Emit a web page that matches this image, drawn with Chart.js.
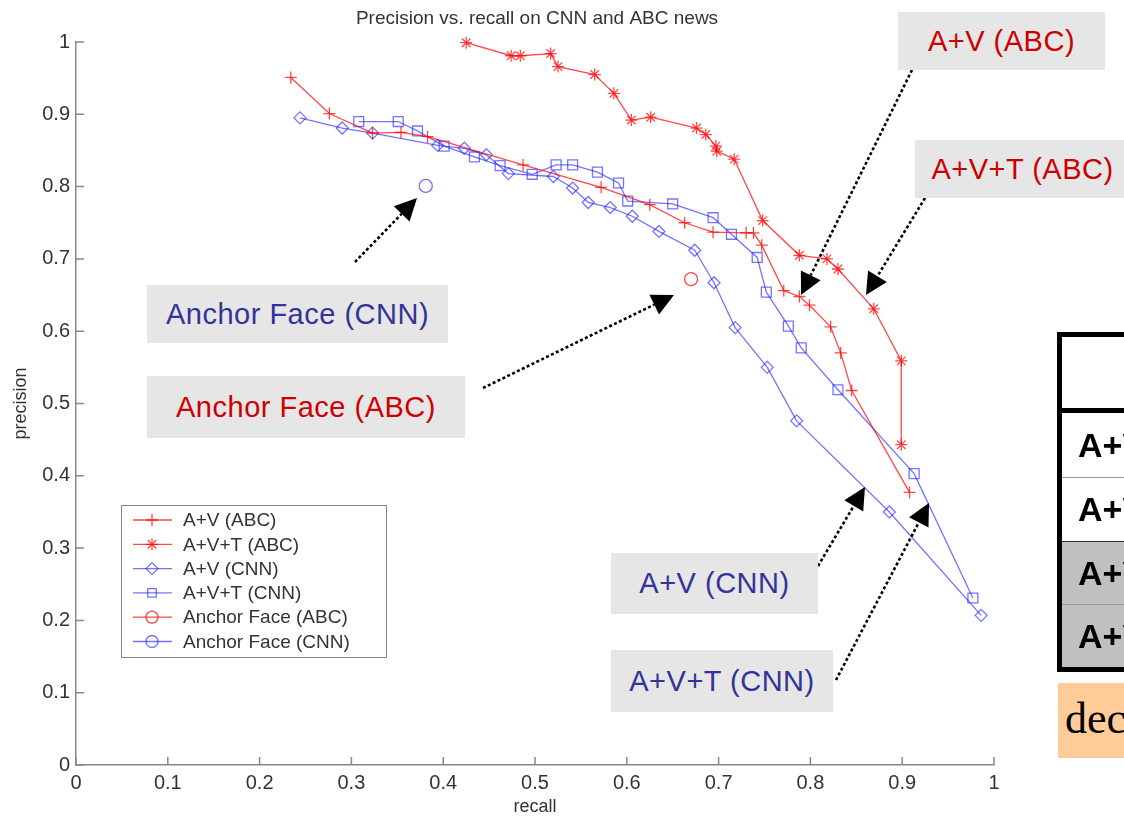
<!DOCTYPE html>
<html>
<head>
<meta charset="utf-8">
<title>Precision vs. recall on CNN and ABC news</title>
<script src="https://cdn.jsdelivr.net/npm/chart.js@4.4.1/dist/chart.umd.min.js"></script>
<style>
    html, body { margin: 0; padding: 0; background: #fff; overflow: hidden; }
    #wrap { position: relative; width: 1124px; height: 818px; overflow: hidden; font-family: "Liberation Sans", Arial, sans-serif; }
    #wrap canvas { position: absolute; left: 0; top: 0; }
    .note { position: absolute; background: #e6e6e6; font-size: 29px; letter-spacing: 0.5px; display: flex; align-items: center; justify-content: center; white-space: nowrap; }
    .red { color: #cc0000; }
    .blue { color: #333399; }
    #tbl { position: absolute; left: 1057px; top: 332px; width: 400px; border: 5px solid #000; border-right: none; }
    #tbl .hdr { height: 71px; border-bottom: 5px solid #000; }
    #tbl .row { font-weight: bold; font-size: 34px; padding-left: 16px; white-space: nowrap; }
    #tbl .gray { background: #c0c0c0; }
    #dec { position: absolute; left: 1058px; top: 683px; width: 200px; height: 75px; line-height: 72px; background: #ffcc99; font-family: "Liberation Serif", "Times New Roman", serif; font-size: 44px; padding-left: 7px; white-space: nowrap; }
</style>
</head>
<body>
<div id="wrap">
    <canvas id="prChart" width="1124" height="818"></canvas>

    <div class="note red" style="left:898px; top:12px; width:207px; height:58px;">A+V (ABC)</div>
    <div class="note red" style="left:915px; top:140px; width:215px; height:58px;">A+V+T (ABC)</div>
    <div class="note blue" style="left:147px; top:285px; width:301px; height:58px;">Anchor Face (CNN)</div>
    <div class="note red" style="left:147px; top:376px; width:318px; height:62px;">Anchor Face (ABC)</div>
    <div class="note blue" style="left:611px; top:553px; width:207px; height:61px;">A+V (CNN)</div>
    <div class="note blue" style="left:611px; top:650px; width:222px; height:62px;">A+V+T (CNN)</div>

    <div id="tbl">
        <div class="hdr"></div>
        <div class="row" style="height:64px; line-height:64px; border-bottom:1px solid #999;">A+V (ABC)</div>
        <div class="row" style="height:63px; line-height:63px; border-bottom:1px solid #333;">A+V+T (ABC)</div>
        <div class="row gray" style="height:62px; line-height:62px; border-bottom:1px solid #999;">A+V (CNN)</div>
        <div class="row gray" style="height:62px; line-height:62px;">A+V+T (CNN)</div>
    </div>
    <div id="dec">decision</div>
</div>

<script>
"use strict";

// Data (recall = x, precision = y)
const seriesNames = [
    "A+V (ABC)",
    "A+V+T (ABC)",
    "A+V (CNN)",
    "A+V+T (CNN)",
    "Anchor Face (ABC)",
    "Anchor Face (CNN)",
];

const avAbcRecall = [0.234, 0.276, 0.323, 0.354, 0.383, 0.487, 0.572, 0.625, 0.663, 0.694, 0.730, 0.738, 0.747, 0.771, 0.788, 0.799, 0.822, 0.833, 0.845, 0.908];
const avAbcPrecision = [0.951, 0.901, 0.874, 0.875, 0.869, 0.830, 0.799, 0.775, 0.750, 0.737, 0.736, 0.736, 0.719, 0.656, 0.648, 0.636, 0.606, 0.570, 0.518, 0.377];

const avtAbcRecall = [0.425, 0.474, 0.484, 0.517, 0.525, 0.565, 0.586, 0.605, 0.626, 0.676, 0.686, 0.697, 0.698, 0.717, 0.748, 0.788, 0.818, 0.830, 0.869, 0.899, 0.899];
const avtAbcPrecision = [0.999, 0.981, 0.981, 0.984, 0.966, 0.955, 0.929, 0.892, 0.896, 0.881, 0.872, 0.856, 0.849, 0.838, 0.753, 0.705, 0.700, 0.686, 0.631, 0.559, 0.443];

const avCnnRecall = [0.244, 0.290, 0.323, 0.394, 0.423, 0.447, 0.471, 0.520, 0.541, 0.558, 0.582, 0.606, 0.635, 0.674, 0.695, 0.718, 0.753, 0.785, 0.886, 0.986];
const avCnnPrecision = [0.895, 0.881, 0.874, 0.857, 0.853, 0.844, 0.818, 0.814, 0.798, 0.778, 0.771, 0.759, 0.738, 0.712, 0.667, 0.605, 0.550, 0.476, 0.350, 0.207];

const avtCnnRecall = [0.308, 0.351, 0.372, 0.401, 0.434, 0.462, 0.497, 0.523, 0.541, 0.568, 0.591, 0.601, 0.650, 0.694, 0.714, 0.742, 0.752, 0.776, 0.790, 0.830, 0.913, 0.977];
const avtCnnPrecision = [0.890, 0.890, 0.877, 0.856, 0.841, 0.829, 0.817, 0.830, 0.830, 0.820, 0.805, 0.780, 0.776, 0.757, 0.734, 0.702, 0.654, 0.607, 0.577, 0.519, 0.403, 0.231];

const anchorAbcRecall = [0.670];
const anchorAbcPrecision = [0.672];
const anchorCnnRecall = [0.381];
const anchorCnnPrecision = [0.801];

const xTicks = [0, 0.1, 0.2, 0.3, 0.4, 0.5, 0.6, 0.7, 0.8, 0.9, 1];
const yTicks = [0, 0.1, 0.2, 0.3, 0.4, 0.5, 0.6, 0.7, 0.8, 0.9, 1];

// Dotted call-out arrows (page pixels, tail -> tip)
const arrows = [
    { tail: [355, 262], tip: [417, 198] },
    { tail: [483, 388], tip: [674, 295] },
    { tail: [912, 70], tip: [801, 295] },
    { tail: [925, 198], tip: [866, 295] },
    { tail: [818, 566], tip: [865, 487] },
    { tail: [836, 680], tip: [929, 503] },
];

const RED = "rgba(255, 0, 0, 0.72)";
const BLUE = "rgba(30, 30, 255, 0.62)";
const TEXT = "#333";
const AXIS = "#888";

function toPoints(xs, ys) {
    return xs.map((x, i) => ({ x: x, y: ys[i] }));
}

function series(label, xs, ys, color, style, radius) {
    return {
        label: label,
        data: toPoints(xs, ys),
        showLine: true,
        borderColor: color,
        borderWidth: 1.3,
        pointStyle: style,
        pointRadius: radius,
        pointBorderColor: color,
        pointBackgroundColor: "rgba(0,0,0,0)",
        pointBorderWidth: 1.3,
        clip: false,
    };
}

function drawArrow(ctx, a) {
    const dx = a.tip[0] - a.tail[0];
    const dy = a.tip[1] - a.tail[1];
    const len = Math.hypot(dx, dy);
    const ux = dx / len;
    const uy = dy / len;
    const headLen = 22;
    const headW = 11;
    const bx = a.tip[0] - ux * headLen;
    const by = a.tip[1] - uy * headLen;

    ctx.save();
    ctx.strokeStyle = "#000";
    ctx.lineWidth = 2.6;
    ctx.setLineDash([3, 2.4]);
    ctx.beginPath();
    ctx.moveTo(a.tail[0], a.tail[1]);
    ctx.lineTo(bx, by);
    ctx.stroke();
    ctx.setLineDash([]);
    ctx.fillStyle = "#000";
    ctx.beginPath();
    ctx.moveTo(a.tip[0], a.tip[1]);
    ctx.lineTo(bx - uy * headW, by + ux * headW);
    ctx.lineTo(bx + uy * headW, by - ux * headW);
    ctx.closePath();
    ctx.fill();
    ctx.restore();
}

// Title, inward ticks, legend box and arrows
const extras = {
    id: "extras",
    afterDraw(chart) {
        const ctx = chart.ctx;
        const area = chart.chartArea;
        const sx = chart.scales.x;
        const sy = chart.scales.y;

        ctx.save();
        ctx.fillStyle = TEXT;
        ctx.font = "19px 'Liberation Sans', Arial, sans-serif";
        ctx.textAlign = "center";
        ctx.textBaseline = "middle";
        ctx.fillText("Precision vs. recall on CNN and ABC news", (area.left + area.right) / 2 + 2, 19);

        ctx.strokeStyle = AXIS;
        ctx.lineWidth = 1.5;
        ctx.beginPath();
        xTicks.forEach((v) => {
            const px = sx.getPixelForValue(v);
            ctx.moveTo(px, area.bottom);
            ctx.lineTo(px, area.bottom - 8);
        });
        yTicks.forEach((v) => {
            const py = sy.getPixelForValue(v);
            ctx.moveTo(area.left, py);
            ctx.lineTo(area.left + 8, py);
        });
        ctx.stroke();

        // legend
        const lx = 121.5, ly = 505.5, lw = 265, lh = 152;
        ctx.fillStyle = "#fff";
        ctx.fillRect(lx, ly, lw, lh);
        ctx.strokeStyle = AXIS;
        ctx.lineWidth = 1;
        ctx.strokeRect(lx, ly, lw, lh);
        ctx.font = "19px 'Liberation Sans', Arial, sans-serif";
        ctx.textAlign = "left";
        chart.data.datasets.forEach((ds, i) => {
            const y = 520 + i * 24.3;
            ctx.strokeStyle = ds.borderColor;
            ctx.lineWidth = 1.3;
            ctx.beginPath();
            ctx.moveTo(133, y);
            ctx.lineTo(172, y);
            ctx.stroke();
            ctx.fillStyle = "rgba(0,0,0,0)";
            Chart.helpers.drawPoint(ctx, {
                pointStyle: ds.pointStyle,
                radius: Math.min(ds.pointRadius, 6),
                borderWidth: 1.3,
                rotation: 0,
            }, 152, y);
            ctx.fillStyle = TEXT;
            ctx.fillText(ds.label, 183, y + 1);
        });
        ctx.restore();

        arrows.forEach((a) => drawArrow(ctx, a));
    },
};

const ctx = document.getElementById("prChart").getContext("2d");

const tickFont = { size: 20, family: "'Liberation Sans', Arial, sans-serif" };
const titleFont = { size: 18, family: "'Liberation Sans', Arial, sans-serif" };

const prChart = new Chart(ctx, {
    type: "scatter",
    data: {
        datasets: [
            series(seriesNames[0], avAbcRecall, avAbcPrecision, RED, "cross", 6),
            series(seriesNames[1], avtAbcRecall, avtAbcPrecision, RED, "star", 6),
            series(seriesNames[2], avCnnRecall, avCnnPrecision, BLUE, "rectRot", 6),
            series(seriesNames[3], avtCnnRecall, avtCnnPrecision, BLUE, "rect", 7),
            series(seriesNames[4], anchorAbcRecall, anchorAbcPrecision, RED, "circle", 6.5),
            series(seriesNames[5], anchorCnnRecall, anchorCnnPrecision, BLUE, "circle", 6.5),
        ],
    },
    options: {
        responsive: false,
        animation: false,
        layout: {
            padding: { top: 42, right: 130, left: 0, bottom: 0 },
        },
        plugins: {
            legend: { display: false },
            tooltip: { enabled: false },
        },
        scales: {
            x: {
                type: "linear",
                min: 0,
                max: 1,
                afterBuildTicks: (scale) => {
                    scale.ticks = xTicks.map((v) => ({ value: v }));
                },
                afterFit: (scale) => {
                    scale.height = 53;
                },
                ticks: {
                    color: TEXT,
                    padding: 6,
                    maxRotation: 0,
                    font: tickFont,
                    callback: (v) => String(v),
                },
                grid: { display: true, drawOnChartArea: false, drawTicks: false },
                border: { display: true, color: AXIS, width: 1.5 },
                title: {
                    display: true,
                    text: "recall",
                    color: TEXT,
                    padding: { top: 0, bottom: 0 },
                    font: titleFont,
                },
            },
            y: {
                type: "linear",
                min: 0,
                max: 1,
                afterBuildTicks: (scale) => {
                    scale.ticks = yTicks.map((v) => ({ value: v }));
                },
                afterFit: (scale) => {
                    scale.width = 76;
                },
                ticks: {
                    color: TEXT,
                    padding: 6,
                    font: tickFont,
                    callback: (v) => String(v),
                },
                grid: { display: true, drawOnChartArea: false, drawTicks: false },
                border: { display: true, color: AXIS, width: 1.5 },
                title: {
                    display: true,
                    text: "precision",
                    color: TEXT,
                    padding: { top: 10, bottom: 0 },
                    font: titleFont,
                },
            },
        },
    },
    plugins: [extras],
});
</script>
</body>
</html>
